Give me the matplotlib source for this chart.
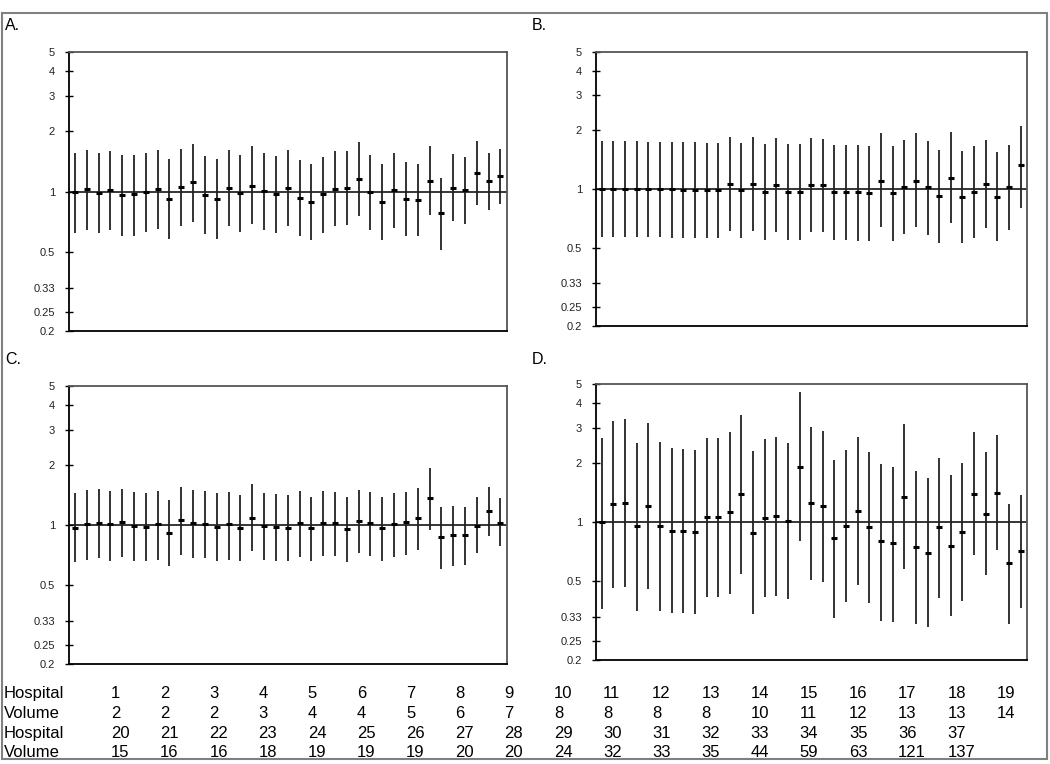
import numpy as np
import matplotlib
matplotlib.use("Agg")
import matplotlib.pyplot as plt
from matplotlib.patches import Rectangle

plt.rcParams['font.family'] = ['Liberation Sans', 'DejaVu Sans']

W, H = 1050, 764

hospitals = list(range(1, 38))
volumes = [2, 2, 2, 3, 4, 4, 5, 6, 7, 8, 8, 8, 8, 10, 11, 12, 13, 13, 14,
           15, 16, 16, 18, 19, 19, 19, 20, 20, 24, 32, 33, 35, 44, 59, 63, 121, 137]

# panel A
a_est = [0.99, 1.03, 0.98, 1.02, 0.96, 0.97, 0.99, 1.03, 0.92, 1.05, 1.11, 0.96, 0.92,
         1.04, 0.98, 1.07, 1.01, 0.97, 1.04, 0.93, 0.89, 0.97, 1.03, 1.04, 1.15, 0.99,
         0.89, 1.02, 0.92, 0.91, 1.13, 0.78, 1.04, 1.02, 1.24, 1.13, 1.20]
a_hi = [1.56, 1.62, 1.56, 1.60, 1.53, 1.53, 1.56, 1.62, 1.45, 1.64, 1.73, 1.51, 1.45,
        1.62, 1.53, 1.69, 1.56, 1.51, 1.62, 1.44, 1.38, 1.49, 1.60, 1.60, 1.77, 1.53,
        1.38, 1.56, 1.40, 1.38, 1.69, 1.17, 1.54, 1.49, 1.79, 1.56, 1.64]
a_lo = [0.62, 0.64, 0.62, 0.64, 0.60, 0.60, 0.63, 0.65, 0.58, 0.67, 0.70, 0.61, 0.58,
        0.67, 0.63, 0.69, 0.64, 0.62, 0.67, 0.60, 0.57, 0.62, 0.67, 0.68, 0.75, 0.64,
        0.57, 0.66, 0.60, 0.60, 0.76, 0.51, 0.71, 0.69, 0.86, 0.81, 0.87]

# panel B
b_est = [1.00, 1.00, 1.00, 1.00, 1.00, 1.00, 1.00, 0.99, 0.99, 0.99, 0.99, 1.06, 0.99,
         1.06, 0.97, 1.05, 0.97, 0.97, 1.05, 1.05, 0.96, 0.96, 0.96, 0.95, 1.10, 0.95,
         1.02, 1.10, 1.02, 0.92, 1.14, 0.91, 0.96, 1.06, 0.91, 1.02, 1.32]
b_hi = [1.75, 1.75, 1.75, 1.75, 1.73, 1.73, 1.73, 1.73, 1.73, 1.71, 1.71, 1.84, 1.71,
        1.84, 1.69, 1.82, 1.69, 1.69, 1.82, 1.80, 1.67, 1.67, 1.67, 1.65, 1.92, 1.65,
        1.78, 1.92, 1.75, 1.59, 1.96, 1.57, 1.65, 1.78, 1.55, 1.67, 2.10]
b_lo = [0.567, 0.567, 0.567, 0.567, 0.567, 0.567, 0.56, 0.56, 0.56, 0.56, 0.56, 0.61,
        0.56, 0.61, 0.55, 0.60, 0.55, 0.55, 0.60, 0.60, 0.55, 0.55, 0.545, 0.545, 0.64,
        0.545, 0.59, 0.64, 0.58, 0.53, 0.67, 0.53, 0.56, 0.63, 0.54, 0.62, 0.80]

# panel C
c_est = [0.97, 1.01, 1.02, 1.01, 1.03, 0.99, 0.98, 1.01, 0.91, 1.06, 1.02, 1.01, 0.98,
         1.01, 0.97, 1.08, 0.99, 0.98, 0.97, 1.02, 0.97, 1.02, 1.02, 0.96, 1.05, 1.02,
         0.97, 1.01, 1.03, 1.08, 1.36, 0.87, 0.89, 0.89, 0.99, 1.18, 1.02]
c_hi = [1.45, 1.50, 1.52, 1.49, 1.52, 1.47, 1.45, 1.49, 1.34, 1.56, 1.50, 1.49, 1.45,
        1.47, 1.42, 1.60, 1.45, 1.43, 1.42, 1.49, 1.39, 1.49, 1.47, 1.38, 1.50, 1.47,
        1.39, 1.45, 1.47, 1.54, 1.93, 1.23, 1.25, 1.23, 1.38, 1.56, 1.36]
c_lo = [0.65, 0.67, 0.68, 0.66, 0.69, 0.66, 0.66, 0.67, 0.62, 0.71, 0.68, 0.68, 0.66,
        0.67, 0.66, 0.74, 0.67, 0.66, 0.66, 0.69, 0.66, 0.70, 0.70, 0.65, 0.72, 0.70,
        0.66, 0.69, 0.71, 0.75, 0.94, 0.60, 0.62, 0.63, 0.72, 0.88, 0.78]

# panel D
d_est = [1.00, 1.23, 1.25, 0.95, 1.20, 0.95, 0.90, 0.90, 0.89, 1.06, 1.06, 1.12, 1.39,
         0.88, 1.05, 1.07, 1.01, 1.90, 1.25, 1.20, 0.83, 0.95, 1.14, 0.94, 0.80, 0.78,
         1.34, 0.75, 0.70, 0.94, 0.76, 0.89, 1.39, 1.10, 1.41, 0.62, 0.71]
d_hi = [2.67, 3.25, 3.33, 2.50, 3.17, 2.54, 2.37, 2.35, 2.31, 2.67, 2.67, 2.85, 3.50,
        2.28, 2.63, 2.71, 2.50, 4.58, 3.02, 2.88, 2.06, 2.31, 2.71, 2.25, 1.96, 1.89,
        3.14, 1.82, 1.67, 2.11, 1.73, 1.98, 2.87, 2.25, 2.77, 1.24, 1.37]
d_lo = [0.364, 0.464, 0.467, 0.356, 0.456, 0.356, 0.346, 0.346, 0.342, 0.417, 0.417,
        0.432, 0.548, 0.342, 0.417, 0.422, 0.408, 0.797, 0.509, 0.497, 0.325, 0.392,
        0.478, 0.387, 0.316, 0.312, 0.579, 0.305, 0.295, 0.412, 0.333, 0.397, 0.677,
        0.542, 0.718, 0.305, 0.368]

yticks = [0.2, 0.25, 0.33, 0.5, 1, 2, 3, 4, 5]
ytick_labels = ['0.2', '0.25', '0.33', '0.5', '1', '2', '3', '4', '5']

panels = [
    ("A.", (5, 30.5), (69, 52, 507, 331), a_est, a_lo, a_hi),
    ("B.", (532, 30.5), (596, 52, 1027, 326), b_est, b_lo, b_hi),
    ("C.", (5, 364), (69, 386, 507, 664), c_est, c_lo, c_hi),
    ("D.", (532, 364), (596, 384, 1027, 660), d_est, d_lo, d_hi),
]

fig = plt.figure(figsize=(W / 100, H / 100), dpi=100)

for label, (lx, ly), (x0, y0, x1, y1), est, lo, hi in panels:
    ax = fig.add_axes([x0 / W, 1 - y1 / H, (x1 - x0) / W, (y1 - y0) / H])
    ax.axhline(1, color='black', lw=1.1, zorder=1)
    ax.vlines(hospitals, lo, hi, color='#222222', lw=1.3, zorder=2)
    ax.plot(hospitals, est, ls='none', marker='_', markersize=4.5, mew=2.2,
            color='black', zorder=3)
    ax.set_yscale('log')
    ax.set_ylim(0.2, 5)
    ax.set_xlim(0.5, 37.55)
    ax.set_yticks(yticks)
    ax.set_yticklabels(ytick_labels)
    ax.yaxis.set_minor_locator(matplotlib.ticker.NullLocator())
    ax.set_xticks([])
    ax.tick_params(axis='y', direction='inout', length=6, width=1.0,
                   labelsize=8, pad=7, colors='black')
    ax.tick_params(axis='y', labelcolor='#222222')
    for side in ['left', 'bottom']:
        ax.spines[side].set_color('black')
        ax.spines[side].set_linewidth(1.3)
    for side in ['top', 'right']:
        ax.spines[side].set_color('#555555')
        ax.spines[side].set_linewidth(1.3)
    fig.text(lx / W, 1 - ly / H, label, fontsize=11.5, va='baseline', ha='left')

# table of hospitals and volumes
row_base = [698, 718, 738, 757]
col_x = [111 + 49.2 * i for i in range(19)]
rows = [
    ("Hospital", hospitals[:19]),
    ("Volume", volumes[:19]),
    ("Hospital", hospitals[19:]),
    ("Volume", volumes[19:]),
]
for (name, vals), yb in zip(rows, row_base):
    fig.text(4 / W, 1 - yb / H, name, fontsize=12, va='baseline', ha='left')
    for v, xc in zip(vals, col_x):
        fig.text(xc / W, 1 - yb / H, str(v), fontsize=12, va='baseline', ha='left')

# outer frame
fig.add_artist(Rectangle((1.5 / W, 1 - 759 / H), (1047 - 1.5) / W, (759 - 13) / H,
                         transform=fig.transFigure, fill=False,
                         edgecolor='#808080', lw=1.5))

fig.savefig("out.png", dpi=100)
